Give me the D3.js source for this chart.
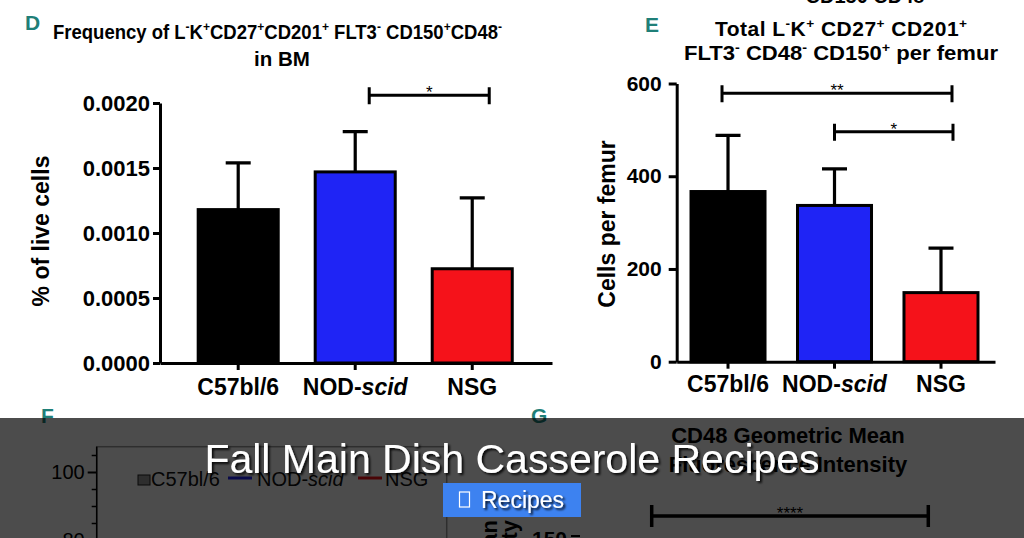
<!DOCTYPE html>
<html>
<head>
<meta charset="utf-8">
<script src="https://cdn.jsdelivr.net/npm/d3@7"></script>
<style>
  body { margin: 0; background: #fff; }
  svg { display: block; font-family: "Liberation Sans", Arial, sans-serif; }
</style>
</head>
<body>
<svg id="fig" width="1024" height="538"></svg>
<script>
// ---- data ----
var strains = ["C57bl/6", "NOD-scid", "NSG"];
var barColors = ["#000000", "#1f24f5", "#f5121a"];

// panel D: frequency in BM (% of live cells)
var freqMean = [0.00118, 0.00147, 0.000725];
var freqUpper = [0.00154, 0.00178, 0.00127];
var freqTicks = [0, 0.0005, 0.0010, 0.0015, 0.0020];
var freqSig = [{ from: "NOD-scid", to: "NSG", level: 0.00206, label: "*" }];

// panel E: cells per femur
var cellsMean = [367, 337, 149];
var cellsUpper = [488, 416, 245];
var cellsTicks = [0, 200, 400, 600];
var cellsSig = [
    { from: "C57bl/6", to: "NSG", level: 579, label: "**" },
    { from: "NOD-scid", to: "NSG", level: 496, label: "*" }
];

// panel F (mostly hidden below the banner)
var fMajorTicks = [80, 100];
var fMinorTicks = [85, 90, 95, 105];

var svg = d3.select("#fig");

// text with ^x superscripts, e.g. "L^-K^+"
function richText(sel, str, size) {
    var parts = str.split(/(\^.)/).filter(s => s.length);
    var raised = false;
    parts.forEach(p => {
        if (p[0] === "^") {
            sel.append("tspan").attr("font-size", size * 0.65)
                .attr("dy", raised ? 0 : -size * 0.38).text(p[1]);
            raised = true;
        } else {
            sel.append("tspan").attr("dy", raised ? size * 0.38 : 0).text(p);
            raised = false;
        }
    });
}

function strainLabel(sel) {
    sel.each(function(d) {
        var t = d3.select(this).text("");
        if (d === "NOD-scid") {
            t.append("tspan").text("NOD-");
            t.append("tspan").attr("font-style", "italic").text("scid");
        } else {
            t.text(d);
        }
    });
}

function drawBarPanel(cfg) {
    var g = svg.append("g");

    var x = d3.scaleBand()
        .domain(strains)
        .range(cfg.xRange)
        .paddingInner(cfg.padIn)
        .paddingOuter(cfg.padOut)
        .align(cfg.align);
    var y = d3.scaleLinear().domain(cfg.yDomain).range(cfg.yRange);
    var cx = d => x(d) + x.bandwidth() / 2;

    var rows = strains.map((s, i) => ({ strain: s, mean: cfg.mean[i], upper: cfg.upper[i], color: barColors[i] }));

    // upper error bars
    g.selectAll(".err")
        .data(rows)
        .enter()
        .append("path")
        .attr("d", d => "M" + cx(d.strain) + "," + y(d.mean) + "V" + y(d.upper) +
            "M" + (cx(d.strain) - 12.5) + "," + y(d.upper) + "H" + (cx(d.strain) + 12.5))
        .attr("fill", "none")
        .attr("stroke", "#000")
        .attr("stroke-width", 3.2);

    g.selectAll(".bar")
        .data(rows)
        .enter()
        .append("rect")
        .attr("x", d => x(d.strain))
        .attr("y", d => y(d.mean))
        .attr("width", x.bandwidth())
        .attr("height", d => y(0) - y(d.mean))
        .attr("fill", d => d.color)
        .attr("stroke", "#000")
        .attr("stroke-width", 3);

    // axes
    var ya = g.append("g")
        .attr("transform", "translate(" + cfg.xRange[0] + ",0)")
        .call(d3.axisLeft(y).tickValues(cfg.ticks).tickFormat(cfg.fmt)
            .tickSize(cfg.tickLen).tickSizeOuter(0).tickPadding(cfg.tickPad));
    ya.selectAll("path, line").attr("stroke", "#000").attr("stroke-width", 3);
    ya.selectAll("text").attr("font-size", cfg.tickFont).attr("font-weight", "bold")
        .attr("font-family", "Liberation Sans, Arial, sans-serif").attr("fill", "#000");

    var xa = g.append("g")
        .attr("transform", "translate(0," + cfg.yRange[0] + ")")
        .call(d3.axisBottom(x).tickSize(7).tickSizeOuter(0).tickPadding(cfg.catPad));
    xa.selectAll("path, line").attr("stroke", "#000").attr("stroke-width", 3);
    xa.selectAll("text").attr("font-size", 23).attr("font-weight", "bold")
        .attr("font-family", "Liberation Sans, Arial, sans-serif").attr("fill", "#000")
        .call(strainLabel);

    // y title
    g.append("text")
        .attr("transform", "translate(" + cfg.yTitlePos[0] + "," + cfg.yTitlePos[1] + ") rotate(-90)")
        .attr("text-anchor", "middle")
        .attr("font-size", 23)
        .attr("font-weight", "bold")
        .text(cfg.yTitle);

    // significance brackets
    cfg.sig.forEach((s, i) => {
        var x1 = cx(s.from) + cfg.sigShift[i][0];
        var x2 = cx(s.to) + cfg.sigShift[i][1];
        var ly = y(s.level);
        g.append("path")
            .attr("d", "M" + x1 + "," + (ly - 8) + "V" + (ly + 9) + "M" + x1 + "," + ly + "H" + x2 +
                "M" + x2 + "," + (ly - 8) + "V" + (ly + 9))
            .attr("fill", "none")
            .attr("stroke", "#000")
            .attr("stroke-width", 3);
        g.append("text")
            .attr("x", (x1 + x2) / 2)
            .attr("y", ly + 3)
            .attr("text-anchor", "middle")
            .attr("font-size", 17)
            .text(s.label);
    });

    // title + panel letter
    cfg.title.forEach((line, i) => {
        var t = g.append("text")
            .attr("x", cfg.titleX[i])
            .attr("y", cfg.titleY[i])
            .attr("text-anchor", "middle")
            .attr("font-size", cfg.titleSize)
            .attr("font-weight", "bold");
        if (cfg.titleLen[i]) {
            t.attr("textLength", cfg.titleLen[i][0]).attr("lengthAdjust", cfg.titleLen[i][1]);
        }
        richText(t, line, cfg.titleSize);
    });
    g.append("text")
        .attr("x", cfg.letterPos[0])
        .attr("y", cfg.letterPos[1])
        .attr("font-family", "Liberation Sans Narrow, Liberation Sans, sans-serif")
        .attr("font-size", 21)
        .attr("font-weight", "bold")
        .attr("fill", "#1f7f78")
        .text(cfg.letter);
}

// cut-off line of the panel above
svg.append("text")
    .attr("x", 865).attr("y", 3)
    .attr("text-anchor", "middle")
    .attr("font-size", 20).attr("font-weight", "bold")
    .text("CD150 CD48");

drawBarPanel({
    letter: "D", letterPos: [25, 30],
    title: ["Frequency of L^-K^+CD27^+CD201^+ FLT3^- CD150^+CD48^-", "in BM"],
    titleX: [277.5, 282], titleY: [39, 66], titleSize: 20.5,
    titleLen: [[449, "spacingAndGlyphs"], null],
    xRange: [160, 552], padIn: 0.316, padOut: 0.333, align: 0.49,
    yDomain: [0, 0.002], yRange: [363, 103],
    mean: freqMean, upper: freqUpper, ticks: freqTicks,
    fmt: d3.format(".4f"), tickLen: 7, tickPad: 3, tickFont: 22, catPad: 9,
    yTitle: "% of live cells", yTitlePos: [49, 231],
    sig: freqSig, sigShift: [[14, 17]]
});

drawBarPanel({
    letter: "E", letterPos: [645, 32],
    title: ["Total L^-K^+ CD27^+ CD201^+", "FLT3^- CD48^- CD150^+ per femur"],
    titleX: [841, 841], titleY: [36, 60], titleSize: 21,
    titleLen: [[252, "spacing"], [314, "spacingAndGlyphs"]],
    xRange: [676.7, 995], padIn: 0.305, padOut: 0.147, align: 0.457,
    yDomain: [0, 600], yRange: [361.7, 83.5],
    mean: cellsMean, upper: cellsUpper, ticks: cellsTicks,
    fmt: d3.format("d"), tickLen: 8, tickPad: 7, tickFont: 21, catPad: 7,
    yTitle: "Cells per femur", yTitlePos: [615, 224],
    sig: cellsSig, sigShift: [[-6, 11], [0, 12]]
});

// ---- panel F (under the banner) ----
var fy = d3.scaleLinear().domain([80, 100]).range([540, 472]);
var fg = svg.append("g");
fg.append("rect").attr("x", 96.7).attr("y", 446.7).attr("width", 350).attr("height", 120)
    .attr("fill", "none").attr("stroke", "#9a9a9a").attr("stroke-width", 1.5);
var fa = fg.append("g").attr("transform", "translate(96.7,0)")
    .call(d3.axisLeft(fy).tickValues(fMajorTicks).tickSize(9).tickSizeOuter(0).tickPadding(3));
fa.select(".domain").remove();
fa.selectAll("line").attr("stroke", "#000").attr("stroke-width", 2);
fa.selectAll("text").attr("font-size", 20).attr("fill", "#000")
    .attr("font-family", "Liberation Sans, Arial, sans-serif");
fg.append("g").attr("transform", "translate(96.7,0)")
    .call(d3.axisLeft(fy).tickValues(fMinorTicks).tickSize(5).tickFormat(""))
    .call(s => s.select(".domain").remove())
    .selectAll("line").attr("stroke", "#000").attr("stroke-width", 1.5);
fg.append("line").attr("x1", 96.7).attr("x2", 96.7).attr("y1", 446.7).attr("y2", 538)
    .attr("stroke", "#000").attr("stroke-width", 1.5);

// legend
var legX = [138, 228, 358];
var legTextX = [151, 257, 385];
strains.forEach((s, i) => {
    if (i === 0) {
        fg.append("rect").attr("x", legX[i]).attr("y", 475).attr("width", 12).attr("height", 10)
            .attr("fill", "#9a9a9a").attr("stroke", "#222").attr("stroke-width", 1);
    } else {
        fg.append("line").attr("x1", legX[i]).attr("x2", legX[i] + 24).attr("y1", 478).attr("y2", 478)
            .attr("stroke", barColors[i]).attr("stroke-width", 3);
    }
    fg.append("text").datum(s).attr("x", legTextX[i]).attr("y", 486)
        .attr("font-size", 20).attr("fill", "#111").call(strainLabel);
});
fg.append("text").attr("x", 41).attr("y", 423)
    .attr("font-family", "Liberation Sans Narrow, Liberation Sans, sans-serif")
    .attr("font-size", 21).attr("font-weight", "bold").attr("fill", "#1f7f78").text("F");

// ---- panel G (under the banner) ----
var gg = svg.append("g");
gg.append("text").attr("x", 531).attr("y", 423)
    .attr("font-family", "Liberation Sans Narrow, Liberation Sans, sans-serif")
    .attr("font-size", 21).attr("font-weight", "bold").attr("fill", "#1f7f78").text("G");
["CD48 Geometric Mean", "Fluorescence Intensity"].forEach((t, i) => {
    gg.append("text").attr("x", 788).attr("y", 443 + i * 29)
        .attr("text-anchor", "middle").attr("font-size", 22).attr("font-weight", "bold").text(t);
});
gg.append("path")
    .attr("d", "M651.7,505V527M651.7,516H928.3M928.3,505V527")
    .attr("fill", "none").attr("stroke", "#000").attr("stroke-width", 3.5);
gg.append("text").attr("x", 790).attr("y", 519).attr("text-anchor", "middle")
    .attr("font-size", 17).text("****");
["Geometric Mean", "Fluorescence Intensity"].forEach((t, i) => {
    gg.append("text")
        .attr("transform", "translate(" + (497 + i * 20) + ",520) rotate(-90)")
        .attr("text-anchor", "end").attr("font-size", 22).attr("font-weight", "bold").text(t);
});
gg.append("text").attr("x", 567).attr("y", 546).attr("text-anchor", "end")
    .attr("font-size", 21).attr("font-weight", "bold").text("150");
gg.append("line").attr("x1", 571).attr("x2", 580).attr("y1", 536).attr("y2", 536)
    .attr("stroke", "#000").attr("stroke-width", 2);

// ---- banner overlay ----
var defs = svg.append("defs");
defs.append("filter").attr("id", "shadow").attr("x", "-10%").attr("y", "-30%")
    .attr("width", "120%").attr("height", "160%")
    .append("feDropShadow").attr("dx", 2).attr("dy", 2).attr("stdDeviation", 1)
    .attr("flood-color", "#000").attr("flood-opacity", 0.85);

svg.append("rect").attr("x", 0).attr("y", 418).attr("width", 1024).attr("height", 120)
    .attr("fill", "rgba(0,0,0,0.7)");
svg.append("text").attr("x", 512).attr("y", 473).attr("text-anchor", "middle")
    .attr("font-size", 41).attr("fill", "#fff").attr("filter", "url(#shadow)")
    .text("Fall Main Dish Casserole Recipes");
svg.append("rect").attr("x", 443).attr("y", 483).attr("width", 138).attr("height", 34)
    .attr("fill", "#3d82f0");
svg.append("rect").attr("x", 459.5).attr("y", 492).attr("width", 10).attr("height", 15)
    .attr("fill", "none").attr("stroke", "#fff").attr("stroke-width", 1.2);
svg.append("text").attr("x", 481).attr("y", 508)
    .attr("font-size", 23).attr("fill", "#fff").attr("filter", "url(#shadow)")
    .text("Recipes");
</script>
</body>
</html>
